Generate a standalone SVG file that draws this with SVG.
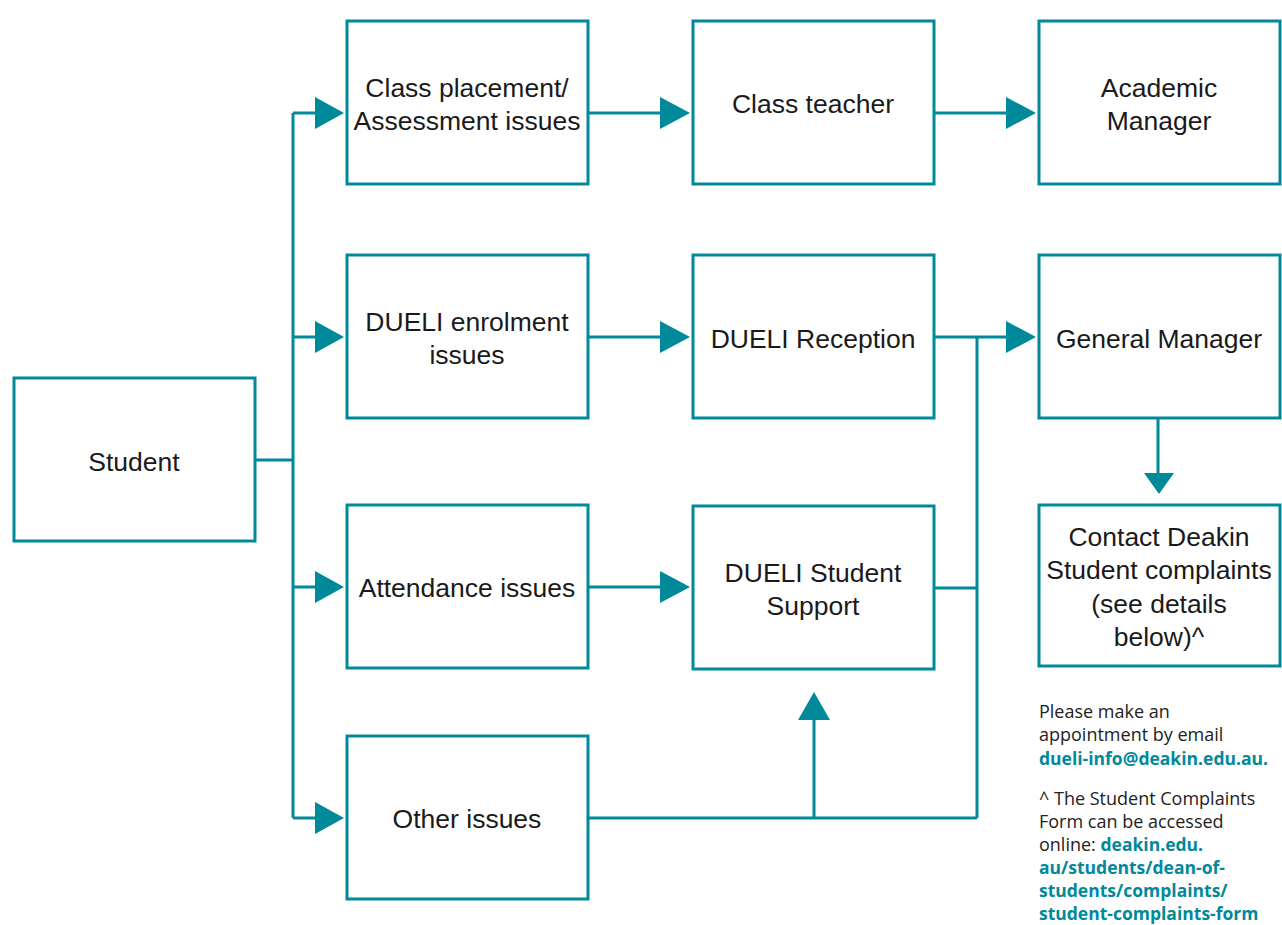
<svg xmlns="http://www.w3.org/2000/svg" width="1282" height="925" viewBox="0 0 1282 925">
<style>
.box{fill:#fff;stroke:#00899a;stroke-width:3}
.lbl{font-family:"Liberation Sans",Arial,sans-serif;font-size:26.5px;fill:#1a1a1a;text-anchor:middle}
.ln{fill:none;stroke:#00899a;stroke-width:3}
.ah{fill:#00899a}
.note{font-family:"Open Sans","Liberation Sans",sans-serif;font-size:18px;fill:#222}
.lnk{fill:#00899a;font-weight:bold;font-size:17.5px}
</style>
<rect width="1282" height="925" fill="#fff"/>
<g id="connectors">
<path class="ln" d="M255 460H293M293 113V818M293 113H318M293 337H318M293 587H318M293 818H318"/>
<path class="ah" d="M315 97L344 113L315 129Z M315 321L344 337L315 353Z M315 571L344 587L315 603Z M315 802L344 818L315 834Z"/>
<path class="ln" d="M588 113H662M588 337H662M588 587H662"/>
<path class="ah" d="M660 97L690 113L660 129Z M660 321L690 337L660 353Z M660 571L690 587L660 603Z"/>
<path class="ln" d="M934 113H1008M934 337H1008M934 588H977M977 337V818M588 818H977M814 818V718M1158 418V476"/>
<path class="ah" d="M1006 97L1036 113L1006 129Z M1006 321L1036 337L1006 353Z M798 720L814 692L830 720Z M1144 473L1174 473L1159 494Z"/>
</g>
<g id="student"><rect class="box" x="14" y="378" width="241" height="163"/><text class="lbl" x="134" y="471">Student</text></g>
<g id="class-placement"><rect class="box" x="347" y="21" width="241" height="163"/><text class="lbl" x="467" y="97">Class placement/</text><text class="lbl" x="467" y="130">Assessment issues</text></g>
<g id="dueli-enrolment"><rect class="box" x="347" y="255" width="241" height="163"/><text class="lbl" x="467" y="331">DUELI enrolment</text><text class="lbl" x="467" y="364">issues</text></g>
<g id="attendance"><rect class="box" x="347" y="505" width="241" height="163"/><text class="lbl" x="467" y="597">Attendance issues</text></g>
<g id="other"><rect class="box" x="347" y="736" width="241" height="163"/><text class="lbl" x="467" y="828">Other issues</text></g>
<g id="class-teacher"><rect class="box" x="693" y="21" width="241" height="163"/><text class="lbl" x="813" y="113">Class teacher</text></g>
<g id="dueli-reception"><rect class="box" x="693" y="255" width="241" height="163"/><text class="lbl" x="813" y="348">DUELI Reception</text></g>
<g id="dueli-support"><rect class="box" x="693" y="506" width="241" height="163"/><text class="lbl" x="813" y="582">DUELI Student</text><text class="lbl" x="813" y="615">Support</text></g>
<g id="academic-manager"><rect class="box" x="1039" y="21" width="241" height="163"/><text class="lbl" x="1159" y="97">Academic</text><text class="lbl" x="1159" y="130">Manager</text></g>
<g id="general-manager"><rect class="box" x="1039" y="255" width="241" height="163"/><text class="lbl" x="1159" y="348">General Manager</text></g>
<g id="contact-deakin"><rect class="box" x="1039" y="505" width="241" height="161"/><text class="lbl" x="1159" y="546">Contact Deakin</text><text class="lbl" x="1159" y="579">Student complaints</text><text class="lbl" x="1159" y="613">(see details</text><text class="lbl" x="1159" y="646">below)^</text></g>
<g id="notes">
<text class="note" x="1039" y="718">Please make an</text>
<text class="note" x="1039" y="741">appointment by email</text>
<text class="note lnk" x="1039" y="765">dueli-info@deakin.edu.au.</text>
<text class="note" x="1039" y="805">^ The Student Complaints</text>
<text class="note" x="1039" y="828">Form can be accessed</text>
<text class="note" x="1039" y="851">online: <tspan class="lnk">deakin.edu.</tspan></text>
<text class="note lnk" x="1039" y="874">au/students/dean-of-</text>
<text class="note lnk" x="1039" y="897">students/complaints/</text>
<text class="note lnk" x="1039" y="920">student-complaints-form</text>
</g>
</svg>
